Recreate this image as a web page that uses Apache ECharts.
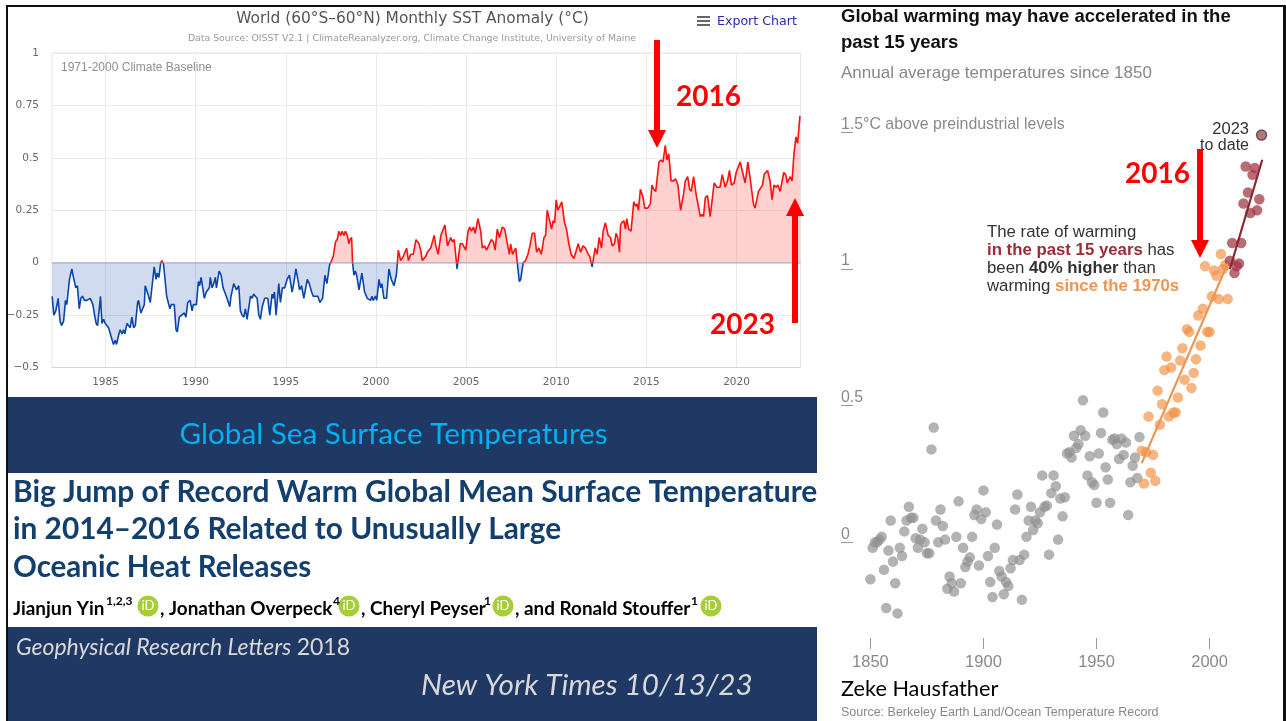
<!DOCTYPE html>
<html>
<head>
<meta charset="utf-8">
<style>
  html, body { margin: 0; padding: 0; background: #fff; }
  #chart { width: 1286px; height: 721px; }
</style>
<script src="https://cdn.jsdelivr.net/npm/echarts@6/dist/echarts.min.js"></script>
</head>
<body>
<div id="chart"></div>
<script>
// left panel: monthly SST anomaly, turning points
const sstYears = [
  1982.04,1982.13,1982.24,1982.37,1982.48,1982.56,1982.67,1982.78,1982.85,1983.00,1983.13,1983.22,1983.35,1983.44,1983.54,1983.63,1983.72,1983.83,1983.96,
  1984.15,1984.30,1984.39,1984.48,1984.56,1984.72,1984.80,1984.89,1984.98,1985.17,1985.30,1985.35,1985.44,1985.54,1985.61,1985.74,1985.81,1985.91,
  1986.00,1986.07,1986.19,1986.30,1986.37,1986.46,1986.56,1986.65,1986.78,1986.83,1986.96,1987.15,1987.20,1987.39,1987.48,1987.70,1987.80,1987.87,1987.96,
  1988.06,1988.13,1988.22,1988.39,1988.46,1988.57,1988.65,1988.81,1988.91,1988.98,1989.09,1989.19,1989.37,1989.46,1989.56,1989.69,1989.80,1989.87,
  1990.04,1990.15,1990.22,1990.30,1990.41,1990.48,1990.59,1990.76,1990.81,1990.91,1991.00,1991.09,1991.15,1991.30,1991.41,1991.52,1991.61,1991.70,1991.89,1991.96,
  1992.11,1992.26,1992.39,1992.48,1992.57,1992.67,1992.76,1992.85,1992.94,1993.04,1993.13,1993.22,1993.31,1993.41,1993.50,1993.59,1993.69,1993.83,
  1994.00,1994.11,1994.24,1994.30,1994.37,1994.46,1994.61,1994.70,1994.81,1994.94,1995.07,1995.20,1995.35,1995.44,1995.56,1995.69,1995.76,1995.87,
  1996.00,1996.19,1996.30,1996.43,1996.52,1996.65,1996.78,1996.89,1997.04,1997.17,1997.28,1997.43,1997.54,1997.63,1997.76,1997.85,1997.94,
  1998.04,1998.13,1998.22,1998.31,1998.41,1998.50,1998.56,1998.65,1998.70,1998.78,1998.85,1998.93,1999.06,1999.22,1999.37,1999.52,1999.70,1999.78,1999.85,1999.98,
  2000.04,2000.17,2000.26,2000.33,2000.44,2000.59,2000.72,2000.85,2001.00,2001.13,2001.19,2001.24,2001.37,2001.52,2001.70,2001.80,2001.93,
  2002.07,2002.22,2002.39,2002.48,2002.57,2002.76,2002.85,2003.04,2003.23,2003.32,2003.45,2003.60,2003.82,2003.97,
  2004.15,2004.24,2004.34,2004.50,2004.67,2004.80,2004.98,2005.11,2005.20,2005.30,2005.41,2005.50,2005.66,2005.81,2005.90,
  2006.03,2006.13,2006.24,2006.40,2006.51,2006.61,2006.73,2006.85,2007.01,2007.14,2007.29,2007.40,2007.47,2007.58,2007.75,2007.84,2007.95,
  2008.03,2008.17,2008.30,2008.43,2008.54,2008.67,2008.80,2008.91,2009.04,2009.17,2009.32,2009.41,2009.50,2009.61,2009.74,2009.83,2009.91,
  2010.00,2010.09,2010.20,2010.31,2010.46,2010.57,2010.70,2010.83,2010.98,2011.07,2011.22,2011.35,2011.48,2011.62,2011.77,2011.86,2011.99,
  2012.16,2012.27,2012.38,2012.51,2012.60,2012.73,2012.88,2013.01,2013.10,2013.23,2013.32,2013.41,2013.51,2013.56,2013.62,2013.75,2013.84,2013.91,
  2014.02,2014.15,2014.30,2014.39,2014.48,2014.56,2014.67,2014.82,2014.91,2015.07,2015.22,2015.31,2015.41,2015.52,2015.70,2015.81,2015.92,
  2016.05,2016.14,2016.24,2016.37,2016.51,2016.62,2016.75,2016.90,2017.07,2017.16,2017.29,2017.40,2017.49,2017.62,2017.77,2017.86,2017.99,
  2018.08,2018.17,2018.27,2018.39,2018.54,2018.76,2018.91,2019.09,2019.21,2019.37,2019.50,2019.61,2019.72,2019.87,2019.98,
  2020.09,2020.20,2020.31,2020.48,2020.63,2020.76,2020.94,2021.03,2021.22,2021.44,2021.53,2021.72,2021.86,2021.97,
  2022.08,2022.20,2022.29,2022.42,2022.51,2022.62,2022.73,2022.82,2022.97,2023.08,2023.19,2023.30,2023.39,2023.52
]
const sstValues = [
  -.16,-.25,-.23,-.17,-.28,-.30,-.28,-.18,-.20,-.08,-.03,-.07,-.12,-.11,-.22,-.17,-.16,-.18,-.18,
  -.17,-.20,-.25,-.29,-.30,-.16,-.29,-.27,-.29,-.31,-.35,-.35,-.39,-.37,-.39,-.34,-.32,-.34,
  -.32,-.34,-.29,-.29,-.31,-.26,-.31,-.30,-.19,-.18,-.24,-.20,-.11,-.16,-.19,-.02,-.08,-.05,-.07,
  0,.01,-.01,-.16,-.16,-.22,-.20,-.20,-.32,-.33,-.26,-.26,-.24,-.26,-.19,-.18,-.23,-.20,
  -.20,-.09,-.11,-.07,-.07,-.17,-.14,-.12,-.07,-.12,-.10,-.07,-.12,-.04,-.06,-.12,-.12,-.16,-.21,-.16,
  -.10,-.13,-.11,-.23,-.25,-.26,-.22,-.27,-.27,-.16,-.17,-.15,-.16,-.17,-.25,-.27,-.21,-.17,
  -.17,-.25,-.15,-.17,-.14,-.25,-.10,-.19,-.12,-.12,-.08,-.06,-.14,-.10,-.03,-.09,-.13,-.11,
  -.17,-.08,-.10,-.14,-.16,-.16,-.16,-.19,-.17,-.06,-.10,-.01,.01,.03,.10,.11,.15,
  .13,.15,.13,.15,.13,.09,.11,.12,0,-.06,-.04,-.06,-.13,-.05,-.14,-.17,-.18,-.16,-.18,-.16,
  -.18,-.08,-.12,-.10,-.17,-.17,-.03,-.08,-.11,-.06,0,.06,.01,.03,.07,.01,.04,
  .04,.11,.09,.06,.01,.03,.05,.07,.13,.08,.04,.13,.18,.08,
  .12,.10,.11,-.03,.09,.09,.06,.15,.17,.15,.17,.14,.21,.15,.07,
  .08,.06,.08,.11,.10,.06,.16,.12,.17,.16,.09,.04,.09,.04,.07,0,-.09,
  -.08,0,.01,.04,.08,.14,.14,.05,.07,.04,.12,.13,.25,.25,.16,.20,.19,
  .30,.25,.27,.29,.19,.16,.09,.04,.02,.02,.09,.05,.08,.07,.04,.03,-.02,
  .07,.04,.12,.07,.15,.19,.13,.12,.08,.09,.14,.12,.05,.17,.19,.20,.16,.21,
  .16,.15,.29,.27,.28,.25,.35,.31,.26,.26,.28,.37,.35,.34,.48,.49,.48,
  .56,.49,.52,.39,.39,.40,.37,.25,.33,.39,.41,.35,.34,.41,.32,.28,.22,
  .23,.22,.31,.32,.22,.38,.36,.36,.42,.36,.39,.44,.37,.38,.43,
  .43,.48,.48,.38,.48,.40,.28,.26,.34,.37,.42,.44,.39,.30,
  .37,.36,.37,.34,.38,.43,.42,.38,.41,.39,.52,.60,.57,.70
]
const sstXTicks = [1985, 1990, 1995, 2000, 2005, 2010, 2015, 2020]
const sstYLabels = { '-0.5': '\u22120.5', '-0.25': '\u22120.25', '0': '0', '0.25': '0.25', '0.5': '0.5', '0.75': '0.75', '1': '1' }

// right panel: annual global temperature, one value per year from the start year
const greyStart = 1850
const greyValues = [
  -.135,-.02,0,0,.01,.02,-.10,-.24,-.03,.08,-.07,-.15,-.26,-.02,-.05,.04,.08,.13,.09,.09,
  .015,-.02,.01,.05,0,-.04,-.04,.34,.42,.08,0,.12,.06,.01,-.17,-.125,-.15,-.18,.02,.15,
  -.15,-.02,-.09,-.07,-.055,.02,.10,.12,-.085,.085,.19,.11,-.05,-.145,-.20,-.02,.065,-.105,-.125,-.19,
  -.145,-.16,-.095,-.065,.12,.175,-.065,-.21,-.045,.02,.08,.13,.045,.08,.07,.11,.245,.13,.135,-.045,
  .18,.245,.205,.01,.16,.095,.165,.325,.33,.31,.39,.345,.36,.41,.52,.39,.245,.315,.22,.21,
  .145,.325,.40,.475,.275,.23,.145,.375,.38,.36,.305,.38,.32,.365,.10,.22,.28,.31,.235,.385
]
const orangeStart = 1970
const orangeValues = [
  .335,.215,.33,.46,.255,.32,.225,.555,.43,.505,.63,.68,.46,.64,.475,.475,.53,.665,.71,.595,
  .78,.77,.565,.62,.67,.83,.72,.855,1.01,.77,.77,.90,.995,.975,.89,1.055,1.0,1.015,.89
]
const redStart = 2009
const redValues = [1.03, 1.095, .985, 1.01, 1.02, 1.095, 1.24, 1.375, 1.28, 1.205, 1.345, 1.37, 1.215, 1.255]
const latestYear = 2023
const latestValue = 1.49
const orangeTrendYears = [1970, 2008]
const orangeTrendValues = [.29, 1.02]
const redTrendYears = [2009, 2023.3]
const redTrendValues = [1.0, 1.4]
const tempXTicks = [1850, 1900, 1950, 2000]
const tempYTicks = [0, 0.5, 1, 1.5]
const tempYLabels = { '0': '0', '0.5': '0.5', '1': '1', '1.5': '1.5°C above preindustrial levels' }

const NAVY = '#1f3864'
const RED = '#ff0000'
const ARIAL = '"Liberation Sans", Arial, sans-serif'
const DEJAVU = '"DejaVu Sans", sans-serif'
const LATO = 'Lato, sans-serif'

function pairs(xs, ys) {
  return ys.map((y, i) => [xs[i], y])
}
function fromYear(start, values) {
  return values.map((v, i) => [start + i, v])
}
function rect(x, y, width, height, fill) {
  return { type: 'rect', z: 90, shape: { x, y, width, height }, style: { fill } }
}
function text(x, y, str, style) {
  return {
    type: 'text', z: 100, x, y,
    style: Object.assign({ text: str, fill: '#000', fontFamily: ARIAL, verticalAlign: 'middle', align: 'left' }, style)
  }
}
// down arrow when dir is 1, up arrow when -1, tail at y0, tip at y1
function arrow(x, y0, y1, dir) {
  const neck = y1 - dir * 18
  return {
    type: 'polygon', z: 95,
    shape: { points: [[x - 3, y0], [x + 3, y0], [x + 3, neck], [x + 9, neck], [x, y1], [x - 9, neck], [x - 3, neck]] },
    style: { fill: RED }
  }
}
function orcid(x, y) {
  return [
    { type: 'circle', z: 95, shape: { cx: x, cy: y, r: 10.5 }, style: { fill: '#a6ce39' } },
    text(x, y, 'iD', { fill: '#fff', fontFamily: LATO, fontSize: 13, align: 'center' })
  ]
}

const chart = echarts.init(document.getElementById('chart'), null, { renderer: 'canvas' })
chart.setOption({
  animation: false,
  backgroundColor: '#fff',
  title: [
    {
      text: 'World (60°S–60°N) Monthly SST Anomaly (°C)',
      left: 407.5, top: 6.5, textAlign: 'center',
      textStyle: { fontFamily: DEJAVU, fontSize: 15.4, fontWeight: 'normal', color: '#555' }
    },
    {
      text: 'Data Source: OISST V2.1 | ClimateReanalyzer.org, Climate Change Institute, University of Maine',
      left: 407, top: 29, textAlign: 'center',
      textStyle: { fontFamily: DEJAVU, fontSize: 9.35, fontWeight: 'normal', color: '#999' }
    }
  ],
  grid: [
    { left: 52, top: 53, width: 748.5, height: 314.5, show: true, borderColor: '#e6e6ea', borderWidth: 1, backgroundColor: '#fff' },
    { left: 841, top: 118.7, width: 436.4, height: 519.3 }
  ],
  xAxis: [
    {
      gridIndex: 0, type: 'value', min: 1982.03, max: 2023.55,
      axisLine: { onZero: false, lineStyle: { color: '#ccd6eb', width: 1 } },
      axisTick: { show: false, customValues: sstXTicks },
      axisLabel: { customValues: sstXTicks, color: '#666', fontFamily: DEJAVU, fontSize: 10.5, margin: 9, formatter: v => String(v) },
      splitLine: { show: true, lineStyle: { color: '#e9e9ee', width: 1 } }
    },
    {
      gridIndex: 1, type: 'value', min: 1837, max: 2030,
      axisLine: { show: false, onZero: false },
      axisTick: { show: true, customValues: tempXTicks, length: 11, lineStyle: { color: '#999', width: 1 } },
      axisLabel: { customValues: tempXTicks, color: '#8a8a8a', fontFamily: ARIAL, fontSize: 16.5, margin: 16, formatter: v => String(v) },
      splitLine: { show: false }
    }
  ],
  yAxis: [
    {
      gridIndex: 0, type: 'value', min: -0.5, max: 1, interval: 0.25,
      axisLine: { show: false },
      axisTick: { show: false },
      axisLabel: { color: '#666', fontFamily: DEJAVU, fontSize: 10.5, margin: 13, padding: [4, 0, 0, 0], formatter: v => sstYLabels[String(v)] },
      splitLine: { lineStyle: { color: '#e9e9ee', width: 1 } }
    },
    {
      gridIndex: 1, type: 'value', min: -0.35, max: 1.55,
      axisLine: { show: false, onZero: false },
      axisTick: { show: true, inside: true, length: 12, customValues: tempYTicks, lineStyle: { color: '#999', width: 1 } },
      axisLabel: {
        inside: true, margin: 0, customValues: tempYTicks, color: '#8a8a8a', fontFamily: ARIAL, fontSize: 15.9,
        verticalAlign: 'bottom', align: 'left', formatter: v => tempYLabels[String(v)]
      },
      splitLine: { show: false }
    }
  ],
  visualMap: {
    show: false, type: 'piecewise', seriesIndex: 0, dimension: 1,
    pieces: [{ min: -1, max: 0, color: '#0a45ab' }, { gt: 0, lte: 1, color: '#ff0f0f' }]
  },
  series: [
    {
      type: 'line', xAxisIndex: 0, yAxisIndex: 0, data: pairs(sstYears, sstValues),
      showSymbol: false, lineStyle: { width: 1.6 }, areaStyle: { opacity: 0.19 },
      markLine: {
        silent: true, symbol: 'none', label: { show: false },
        lineStyle: { color: '#8d93b8', width: 2, type: 'solid', opacity: 0.4 },
        data: [{ yAxis: 0 }]
      }
    },
    {
      type: 'scatter', xAxisIndex: 1, yAxisIndex: 1, data: fromYear(greyStart, greyValues),
      symbolSize: 10.5, itemStyle: { color: '#8f8f8f', opacity: 0.68 }
    },
    {
      type: 'scatter', xAxisIndex: 1, yAxisIndex: 1, data: fromYear(orangeStart, orangeValues),
      symbolSize: 10.5, itemStyle: { color: '#f28e3f', opacity: 0.66 }
    },
    {
      type: 'scatter', xAxisIndex: 1, yAxisIndex: 1, data: fromYear(redStart, redValues),
      symbolSize: 10.5, itemStyle: { color: '#a23743', opacity: 0.74 }
    },
    {
      type: 'scatter', xAxisIndex: 1, yAxisIndex: 1, data: [[latestYear, latestValue]],
      symbolSize: 10, itemStyle: { color: '#a8505a', borderColor: '#444', borderWidth: 1.5 }
    },
    {
      type: 'line', xAxisIndex: 1, yAxisIndex: 1, data: pairs(orangeTrendYears, orangeTrendValues),
      showSymbol: false, lineStyle: { color: '#ee9552', width: 2.2 }
    },
    {
      type: 'line', xAxisIndex: 1, yAxisIndex: 1, data: pairs(redTrendYears, redTrendValues),
      showSymbol: false, lineStyle: { color: '#8b2733', width: 2.2 }
    }
  ],
  graphic: [
    // frame
    rect(6, 5, 1280, 2, '#111'),
    rect(6, 5, 2, 716, '#111'),
    rect(1283, 5, 3, 716, '#111'),
    // export menu
    rect(697, 16, 13, 2, '#666'),
    rect(697, 20, 13, 2, '#666'),
    rect(697, 24, 13, 2, '#666'),
    text(717, 22, 'Export Chart', { fill: '#2a2ab4', fontFamily: DEJAVU, fontSize: 12.6 }),
    text(61, 67.5, '1971-2000 Climate Baseline', { fill: '#909090', fontSize: 12 }),
    // navy bands
    rect(8, 397, 809, 76, NAVY),
    rect(8, 627, 809, 94, NAVY),
    text(393.5, 434, 'Global Sea Surface Temperatures', { fill: '#00b0f0', fontFamily: LATO, fontSize: 29.7, align: 'center' }),
    // paper title
    text(13, 492, 'Big Jump of Record Warm Global Mean Surface Temperature', { fill: '#123f6d', fontFamily: LATO, fontWeight: 'bold', fontSize: 29.9 }),
    text(13, 529, 'in 2014–2016 Related to Unusually Large', { fill: '#123f6d', fontFamily: LATO, fontWeight: 'bold', fontSize: 29.8 }),
    text(13, 567, 'Oceanic Heat Releases', { fill: '#123f6d', fontFamily: LATO, fontWeight: 'bold', fontSize: 29.5 }),
    // authors
    text(13, 609, 'Jianjun Yin', { fontFamily: LATO, fontWeight: 'bold', fontSize: 18.9 }),
    text(106, 601, '1,2,3', { fontFamily: LATO, fontWeight: 'bold', fontSize: 12 }),
    ...orcid(148, 606),
    text(160, 609, ', Jonathan Overpeck', { fontFamily: LATO, fontWeight: 'bold', fontSize: 18.9 }),
    text(333, 601, '4', { fontFamily: LATO, fontWeight: 'bold', fontSize: 12 }),
    ...orcid(349, 606),
    text(361, 609, ', Cheryl Peyser', { fontFamily: LATO, fontWeight: 'bold', fontSize: 18.9 }),
    text(484, 601, '1', { fontFamily: LATO, fontWeight: 'bold', fontSize: 12 }),
    ...orcid(503, 606),
    text(515, 609, ', and Ronald Stouffer', { fontFamily: LATO, fontWeight: 'bold', fontSize: 18.9 }),
    text(691, 601, '1', { fontFamily: LATO, fontWeight: 'bold', fontSize: 12 }),
    ...orcid(711, 606),
    // citations
    text(16, 648, '{i|Geophysical Research Letters }{n|2018}', {
      rich: {
        i: { fill: '#d9d9d9', fontFamily: LATO, fontStyle: 'italic', fontSize: 23 },
        n: { fill: '#d9d9d9', fontFamily: LATO, fontSize: 23 }
      }
    }),
    text(421, 685, 'New York Times 10/13/23', { fill: '#d9d9d9', fontFamily: LATO, fontStyle: 'italic', fontSize: 29.7 }),
    // red call-outs
    arrow(657, 40, 148, 1),
    text(676, 96.5, '2016', { fill: RED, fontFamily: LATO, fontWeight: 'bold', fontSize: 28 }),
    arrow(795, 323, 198, -1),
    text(710, 324.5, '2023', { fill: RED, fontFamily: LATO, fontWeight: 'bold', fontSize: 28 }),
    arrow(1200, 149, 258, 1),
    text(1125, 173.5, '2016', { fill: RED, fontFamily: LATO, fontWeight: 'bold', fontSize: 28 }),
    // NYT headline
    text(841, 17, 'Global warming may have accelerated in the', { fill: '#111', fontWeight: 'bold', fontSize: 18.5 }),
    text(841, 43, 'past 15 years', { fill: '#111', fontWeight: 'bold', fontSize: 18.5 }),
    text(841, 73, 'Annual average temperatures since 1850', { fill: '#888', fontSize: 17 }),
    text(1249, 129, '2023', { fill: '#333', fontSize: 16.5, align: 'right' }),
    text(1249, 146, 'to date', { fill: '#333', fontSize: 16, align: 'right' }),
    // note next to the trend lines
    text(987, 232.5, 'The rate of warming', { fill: '#333', fontSize: 16.8 }),
    text(987, 250.5, '{r|in the past 15 years}{p| has}', {
      rich: {
        r: { fill: '#9e2a35', fontFamily: ARIAL, fontWeight: 'bold', fontSize: 16.8 },
        p: { fill: '#333', fontFamily: ARIAL, fontSize: 16.8 }
      }
    }),
    text(987, 268.5, '{p|been }{b|40% higher}{p| than}', {
      rich: {
        b: { fill: '#333', fontFamily: ARIAL, fontWeight: 'bold', fontSize: 16.8 },
        p: { fill: '#333', fontFamily: ARIAL, fontSize: 16.8 }
      }
    }),
    text(987, 286.5, '{p|warming }{o|since the 1970s}', {
      rich: {
        o: { fill: '#ee9552', fontFamily: ARIAL, fontWeight: 'bold', fontSize: 16.8 },
        p: { fill: '#333', fontFamily: ARIAL, fontSize: 16.8 }
      }
    }),
    text(841, 689, 'Zeke Hausfather', { fontFamily: LATO, fontSize: 21.7 }),
    text(841, 713, 'Source: Berkeley Earth Land/Ocean Temperature Record', { fill: '#888', fontSize: 12.5 })
  ]
})
</script>
</body>
</html>
